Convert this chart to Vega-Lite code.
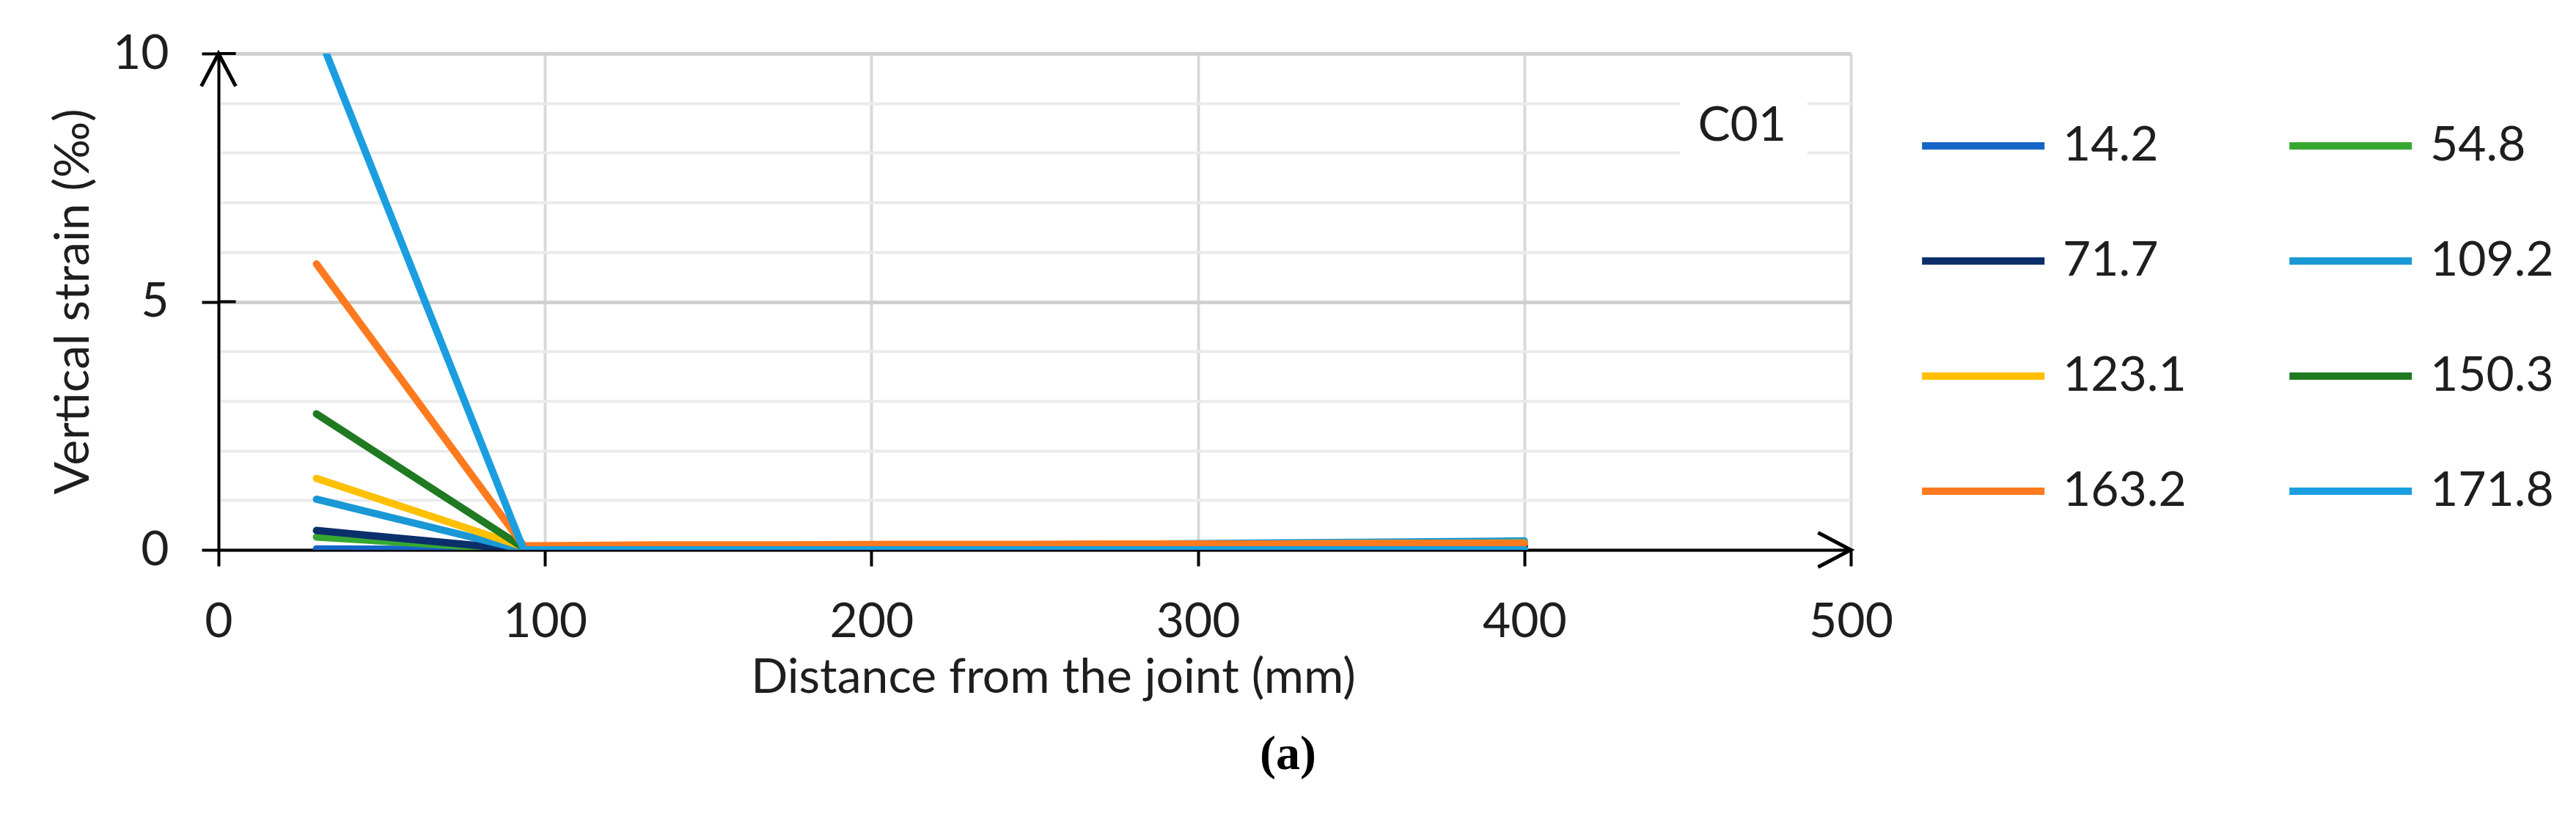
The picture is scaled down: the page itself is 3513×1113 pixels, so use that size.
{
  "$schema": "https://vega.github.io/schema/vega-lite/v6.json",
  "width": 2226,
  "height": 677,
  "autosize": "none",
  "padding": {"left": 298, "top": 73, "right": 989, "bottom": 363},
  "background": "white",
  "config": {
    "view": {"stroke": null},
    "font": "Lato",
    "text": {"font": "Lato"}
  },
  "title": {
    "text": "(a)",
    "orient": "bottom",
    "anchor": "start",
    "frame": "group",
    "dx": 1420,
    "offset": 40,
    "font": "Liberation Serif",
    "fontSize": 66,
    "fontWeight": "bold",
    "color": "#000000"
  },
  "layer": [
    {
      "data": {"values": [{}]},
      "mark": {"type": "rect", "fill": "white"},
      "encoding": {
        "x": {"datum": 447.7, "type": "quantitative", "scale": {"domain": [0, 500], "nice": false}},
        "x2": {"datum": 486.7},
        "y": {"datum": 7.95, "type": "quantitative", "scale": {"domain": [0, 10], "nice": false}},
        "y2": {"datum": 9.05}
      }
    },
    {
      "data": {"values": [
        {"d": 30, "s": 0.02, "load": "14.2"}, {"d": 93.5, "s": 0, "load": "14.2"}, {"d": 133, "s": 0, "load": "14.2"}, {"d": 172, "s": 0, "load": "14.2"}, {"d": 210, "s": 0, "load": "14.2"}, {"d": 249, "s": 0, "load": "14.2"}, {"d": 287, "s": 0, "load": "14.2"}, {"d": 326, "s": 0, "load": "14.2"}, {"d": 364, "s": 0, "load": "14.2"}, {"d": 400, "s": 0, "load": "14.2"},
        {"d": 30, "s": 0.26, "load": "54.8"}, {"d": 93.5, "s": 0, "load": "54.8"}, {"d": 133, "s": 0.02, "load": "54.8"}, {"d": 172, "s": 0.03, "load": "54.8"}, {"d": 210, "s": 0.04, "load": "54.8"}, {"d": 249, "s": 0.05, "load": "54.8"}, {"d": 287, "s": 0.05, "load": "54.8"}, {"d": 326, "s": 0.06, "load": "54.8"}, {"d": 364, "s": 0.06, "load": "54.8"}, {"d": 400, "s": 0.07, "load": "54.8"},
        {"d": 30, "s": 0.39, "load": "71.7"}, {"d": 93.5, "s": 0, "load": "71.7"}, {"d": 133, "s": 0.02, "load": "71.7"}, {"d": 172, "s": 0.03, "load": "71.7"}, {"d": 210, "s": 0.04, "load": "71.7"}, {"d": 249, "s": 0.05, "load": "71.7"}, {"d": 287, "s": 0.06, "load": "71.7"}, {"d": 326, "s": 0.07, "load": "71.7"}, {"d": 364, "s": 0.08, "load": "71.7"}, {"d": 400, "s": 0.08, "load": "71.7"},
        {"d": 30, "s": 1.02, "load": "109.2"}, {"d": 93.5, "s": 0, "load": "109.2"}, {"d": 133, "s": 0.03, "load": "109.2"}, {"d": 172, "s": 0.05, "load": "109.2"}, {"d": 210, "s": 0.07, "load": "109.2"}, {"d": 249, "s": 0.1, "load": "109.2"}, {"d": 287, "s": 0.12, "load": "109.2"}, {"d": 326, "s": 0.14, "load": "109.2"}, {"d": 364, "s": 0.16, "load": "109.2"}, {"d": 400, "s": 0.18, "load": "109.2"},
        {"d": 30, "s": 1.44, "load": "123.1"}, {"d": 93.5, "s": 0.06, "load": "123.1"}, {"d": 133, "s": 0.08, "load": "123.1"}, {"d": 172, "s": 0.09, "load": "123.1"}, {"d": 210, "s": 0.1, "load": "123.1"}, {"d": 249, "s": 0.1, "load": "123.1"}, {"d": 287, "s": 0.11, "load": "123.1"}, {"d": 326, "s": 0.12, "load": "123.1"}, {"d": 364, "s": 0.13, "load": "123.1"}, {"d": 400, "s": 0.14, "load": "123.1"},
        {"d": 30, "s": 2.74, "load": "150.3"}, {"d": 93.5, "s": 0.04, "load": "150.3"}, {"d": 133, "s": 0.06, "load": "150.3"}, {"d": 172, "s": 0.07, "load": "150.3"}, {"d": 210, "s": 0.08, "load": "150.3"}, {"d": 249, "s": 0.09, "load": "150.3"}, {"d": 287, "s": 0.1, "load": "150.3"}, {"d": 326, "s": 0.11, "load": "150.3"}, {"d": 364, "s": 0.12, "load": "150.3"}, {"d": 400, "s": 0.13, "load": "150.3"},
        {"d": 30, "s": 5.76, "load": "163.2"}, {"d": 93.5, "s": 0.08, "load": "163.2"}, {"d": 133, "s": 0.1, "load": "163.2"}, {"d": 172, "s": 0.1, "load": "163.2"}, {"d": 210, "s": 0.11, "load": "163.2"}, {"d": 249, "s": 0.11, "load": "163.2"}, {"d": 287, "s": 0.12, "load": "163.2"}, {"d": 326, "s": 0.12, "load": "163.2"}, {"d": 364, "s": 0.13, "load": "163.2"}, {"d": 400, "s": 0.13, "load": "163.2"},
        {"d": 30, "s": 10.5, "load": "171.8"}, {"d": 93.5, "s": 0, "load": "171.8"}, {"d": 133, "s": 0, "load": "171.8"}, {"d": 172, "s": 0, "load": "171.8"}, {"d": 210, "s": 0, "load": "171.8"}, {"d": 249, "s": 0, "load": "171.8"}, {"d": 287, "s": 0, "load": "171.8"}, {"d": 326, "s": 0, "load": "171.8"}, {"d": 364, "s": 0, "load": "171.8"}, {"d": 400, "s": 0, "load": "171.8"}
      ]},
      "mark": {"type": "line", "strokeWidth": 10, "clip": true, "strokeCap": "round", "strokeJoin": "round"},
      "encoding": {
        "x": {
          "field": "d", "type": "quantitative",
          "scale": {"domain": [0, 500], "nice": false},
          "axis": {
            "values": [0, 100, 200, 300, 400, 500],
            "grid": true, "gridColor": "#d9d9d9", "gridWidth": 4,
            "domain": true, "domainColor": "#000000", "domainWidth": 4,
            "ticks": true, "tickColor": "#000000", "tickWidth": 4, "tickSize": 22,
            "format": "d",
            "labelFont": "Lato", "labelFontSize": 66, "labelColor": "#1e1e1e", "labelPadding": 44,
            "labelFlush": false, "labelOverlap": false,
            "title": "Distance from the joint (mm)",
            "titleFont": "Lato", "titleFontSize": 66, "titleFontWeight": "normal", "titleColor": "#1e1e1e",
            "titleX": 1138, "titleY": 194, "titleAlign": "center", "titleBaseline": "alphabetic"
          }
        },
        "y": {
          "field": "s", "type": "quantitative",
          "scale": {"domain": [0, 10], "nice": false},
          "axis": {
            "values": [0, 1, 2, 3, 4, 5, 6, 7, 8, 9, 10],
            "format": "d",
            "grid": true,
            "gridColor": {"condition": {"test": "datum.value % 5 === 0", "value": "#d0d0d0"}, "value": "#ebebeb"},
            "gridWidth": {"condition": {"test": "datum.value % 5 === 0", "value": 5}, "value": 4},
            "domain": true, "domainColor": "#000000", "domainWidth": 4,
            "ticks": true, "tickColor": "#000000", "tickWidth": 4, "tickSize": 23,
            "tickOpacity": {"condition": {"test": "datum.value % 5 === 0", "value": 1}, "value": 0},
            "labelExpr": "datum.value % 5 === 0 ? datum.label : ''",
            "labelFont": "Lato", "labelFontSize": 66, "labelColor": "#1e1e1e", "labelPadding": 45,
            "labelFlush": false, "labelOverlap": false,
            "title": "Vertical strain (‰)",
            "titleFont": "Lato", "titleFontSize": 66, "titleFontWeight": "normal", "titleColor": "#1e1e1e",
            "titleX": -198, "titleY": 338, "titleAngle": -90, "titleAlign": "center", "titleBaseline": "middle"
          }
        },
        "color": {
          "field": "load", "type": "nominal",
          "scale": {
            "domain": ["14.2", "71.7", "123.1", "163.2", "54.8", "109.2", "150.3", "171.8"],
            "range": ["#1565c8", "#0b2f6b", "#ffc000", "#ff7a1f", "#36a832", "#1a98d5", "#1f7a22", "#1a9ee0"]
          },
          "legend": {
            "orient": "none",
            "legendX": 2318,
            "legendY": 93,
            "columns": 2,
            "title": null,
            "padding": 0,
            "symbolType": "M-1,0H5",
            "symbolSize": 3100,
            "symbolStrokeWidth": 10,
            "labelOffset": 131,
            "labelFont": "Lato",
            "labelFontSize": 66,
            "labelColor": "#1e1e1e",
            "columnPadding": 120,
            "rowPadding": 91,
            "labelLimit": 400
          }
        }
      }
    },
    {
      "data": {"values": [{"v": 5}, {"v": 10}]},
      "mark": {"type": "rule", "color": "#000000", "strokeWidth": 4},
      "encoding": {
        "y": {"field": "v", "type": "quantitative"},
        "x": {"datum": 0, "type": "quantitative"},
        "x2": {"datum": 5.3}
      }
    },
    {
      "data": {"values": [{}]},
      "mark": {"type": "point", "shape": "M-1,1.9L0,0L1,1.9", "size": 2209, "filled": false, "stroke": "#000000", "strokeWidth": 5, "opacity": 1},
      "encoding": {
        "x": {"datum": 0, "type": "quantitative"},
        "y": {"datum": 10, "type": "quantitative"}
      }
    },
    {
      "data": {"values": [{}]},
      "mark": {"type": "point", "shape": "M-1.9,-1L0,0L-1.9,1", "size": 2209, "filled": false, "stroke": "#000000", "strokeWidth": 5, "opacity": 1},
      "encoding": {
        "x": {"datum": 500, "type": "quantitative"},
        "y": {"datum": 0, "type": "quantitative"}
      }
    },
    {
      "data": {"values": [{}]},
      "mark": {"type": "text", "text": "C01", "font": "Lato", "fontSize": 66, "color": "#1e1e1e", "align": "center", "baseline": "middle"},
      "encoding": {
        "x": {"datum": 466.7, "type": "quantitative"},
        "y": {"datum": 8.54, "type": "quantitative"}
      }
    }
  ]
}
